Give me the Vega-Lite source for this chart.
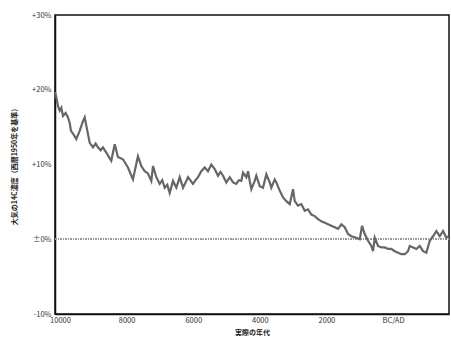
{
  "$schema": "https://vega.github.io/schema/vega-lite/v6.json",
  "width": 394,
  "height": 299,
  "padding": {"left": 10, "top": 11, "right": 0, "bottom": 0},
  "background": "white",
  "config": {
    "font": "Noto Sans CJK JP",
    "view": {"stroke": "#111", "strokeWidth": 1.5},
    "axis": {"grid": false, "domainColor": "#111", "domainWidth": 1.5, "labelColor": "#333", "titleColor": "#222", "labelFontSize": 7.5, "titleFontSize": 7, "titleFontWeight": "bold", "tickSize": 0}
  },
  "data": {"values": [
    {"year": -10150, "c14": 19.7},
    {"year": -10111, "c14": 19.0},
    {"year": -10060, "c14": 17.8},
    {"year": -10009, "c14": 17.2},
    {"year": -9960, "c14": 17.6},
    {"year": -9910, "c14": 16.5},
    {"year": -9830, "c14": 16.9},
    {"year": -9760, "c14": 16.3},
    {"year": -9710, "c14": 15.6},
    {"year": -9670, "c14": 14.5},
    {"year": -9590, "c14": 14.0},
    {"year": -9511, "c14": 13.4},
    {"year": -9409, "c14": 14.5},
    {"year": -9310, "c14": 15.8},
    {"year": -9258, "c14": 16.3},
    {"year": -9210, "c14": 15.2},
    {"year": -9108, "c14": 12.9},
    {"year": -9010, "c14": 12.3},
    {"year": -8930, "c14": 12.8},
    {"year": -8860, "c14": 12.3},
    {"year": -8780, "c14": 11.9},
    {"year": -8710, "c14": 12.3},
    {"year": -8610, "c14": 11.6},
    {"year": -8460, "c14": 10.5},
    {"year": -8357, "c14": 12.7},
    {"year": -8260, "c14": 11.0},
    {"year": -8110, "c14": 10.7},
    {"year": -7960, "c14": 9.6},
    {"year": -7810, "c14": 8.0},
    {"year": -7660, "c14": 11.1},
    {"year": -7558, "c14": 9.8},
    {"year": -7456, "c14": 9.1},
    {"year": -7360, "c14": 8.8},
    {"year": -7258, "c14": 7.8},
    {"year": -7207, "c14": 9.8},
    {"year": -7107, "c14": 8.3},
    {"year": -7006, "c14": 7.4},
    {"year": -6930, "c14": 7.9},
    {"year": -6856, "c14": 6.9},
    {"year": -6780, "c14": 7.3},
    {"year": -6706, "c14": 6.2},
    {"year": -6607, "c14": 7.8},
    {"year": -6507, "c14": 6.9},
    {"year": -6405, "c14": 8.3},
    {"year": -6306, "c14": 6.9},
    {"year": -6230, "c14": 7.6},
    {"year": -6156, "c14": 8.3},
    {"year": -6006, "c14": 7.4},
    {"year": -5930, "c14": 7.9},
    {"year": -5856, "c14": 8.3},
    {"year": -5757, "c14": 9.1},
    {"year": -5655, "c14": 9.6},
    {"year": -5556, "c14": 9.1},
    {"year": -5457, "c14": 10.0},
    {"year": -5356, "c14": 9.4},
    {"year": -5255, "c14": 8.5},
    {"year": -5180, "c14": 9.0},
    {"year": -5105, "c14": 8.5},
    {"year": -5006, "c14": 7.6},
    {"year": -4904, "c14": 8.3},
    {"year": -4805, "c14": 7.6},
    {"year": -4706, "c14": 7.4},
    {"year": -4630, "c14": 7.9},
    {"year": -4556, "c14": 7.8},
    {"year": -4505, "c14": 8.9},
    {"year": -4405, "c14": 8.3},
    {"year": -4354, "c14": 9.1},
    {"year": -4303, "c14": 7.8},
    {"year": -4255, "c14": 6.7},
    {"year": -4153, "c14": 7.8},
    {"year": -4105, "c14": 8.5},
    {"year": -4003, "c14": 7.1},
    {"year": -3904, "c14": 6.9},
    {"year": -3805, "c14": 8.7},
    {"year": -3703, "c14": 7.6},
    {"year": -3655, "c14": 6.9},
    {"year": -3553, "c14": 8.0},
    {"year": -3505, "c14": 7.6},
    {"year": -3402, "c14": 6.5},
    {"year": -3303, "c14": 5.6},
    {"year": -3204, "c14": 5.1},
    {"year": -3102, "c14": 4.7},
    {"year": -3003, "c14": 6.7},
    {"year": -2952, "c14": 5.1},
    {"year": -2853, "c14": 4.5},
    {"year": -2754, "c14": 4.7},
    {"year": -2652, "c14": 3.8},
    {"year": -2553, "c14": 4.0},
    {"year": -2453, "c14": 3.3},
    {"year": -2351, "c14": 3.1},
    {"year": -2252, "c14": 2.7},
    {"year": -2153, "c14": 2.4},
    {"year": -2051, "c14": 2.2},
    {"year": -1952, "c14": 2.0},
    {"year": -1853, "c14": 1.8},
    {"year": -1751, "c14": 1.6},
    {"year": -1652, "c14": 1.4},
    {"year": -1553, "c14": 2.0},
    {"year": -1450, "c14": 1.6},
    {"year": -1351, "c14": 0.7},
    {"year": -1252, "c14": 0.4},
    {"year": -1102, "c14": 0.2},
    {"year": -1000, "c14": 0.0},
    {"year": -931, "c14": 1.8},
    {"year": -850, "c14": 0.7},
    {"year": -751, "c14": -0.2},
    {"year": -652, "c14": -0.9},
    {"year": -601, "c14": -1.6},
    {"year": -550, "c14": 0.2},
    {"year": -450, "c14": -0.9},
    {"year": -351, "c14": -1.1},
    {"year": -249, "c14": -1.1},
    {"year": -150, "c14": -1.3},
    {"year": -51, "c14": -1.3},
    {"year": 51, "c14": -1.6},
    {"year": 150, "c14": -1.8},
    {"year": 249, "c14": -2.0},
    {"year": 351, "c14": -2.0},
    {"year": 450, "c14": -1.6},
    {"year": 502, "c14": -0.9},
    {"year": 601, "c14": -1.1},
    {"year": 700, "c14": -1.3},
    {"year": 802, "c14": -0.9},
    {"year": 901, "c14": -1.6},
    {"year": 1000, "c14": -1.8},
    {"year": 1102, "c14": -0.2},
    {"year": 1201, "c14": 0.4},
    {"year": 1300, "c14": 1.1},
    {"year": 1402, "c14": 0.4},
    {"year": 1502, "c14": 1.1},
    {"year": 1601, "c14": 0.2},
    {"year": 1652, "c14": 0.4}
  ]},
  "layer": [
    {
      "mark": {"type": "rule", "color": "#999", "strokeWidth": 1, "strokeDash": [1, 1.5]},
      "encoding": {"y": {"datum": 0, "type": "quantitative"}}
    },
    {
      "mark": {"type": "line", "color": "#666", "strokeWidth": 2.2},
      "encoding": {
        "x": {
          "field": "year", "type": "quantitative",
          "scale": {"domain": [-10150, 1680], "nice": false, "zero": false},
          "axis": {"values": [-10000, -8000, -6000, -4000, -2000, 0], "labelExpr": "datum.value == 0 ? 'BC/AD' : format(abs(datum.value), 'd')", "title": "実際の年代", "labelPadding": 2, "titlePadding": 5}
        },
        "y": {
          "field": "c14", "type": "quantitative",
          "scale": {"domain": [-10, 30], "nice": false},
          "axis": {"values": [-10, 0, 10, 20, 30], "labelExpr": "datum.value > 0 ? '+' + datum.value + '%' : (datum.value == 0 ? '±0%' : datum.value + '%')", "title": "大気の14C濃度（西暦1950年を基準）", "labelPadding": 4, "titlePadding": 14}
        }
      }
    }
  ]
}
